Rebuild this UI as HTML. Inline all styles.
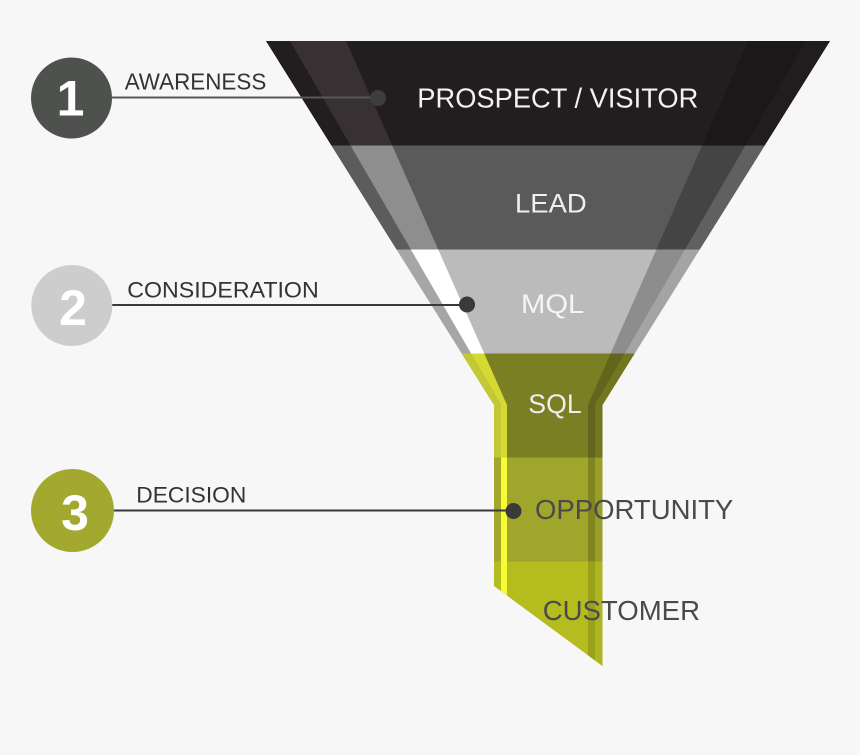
<!DOCTYPE html>
<html>
<head>
<meta charset="utf-8">
<style>
  html,body{margin:0;padding:0;background:#f7f7f7;}
  svg{display:block;}
  text{font-family:"Liberation Sans",Arial,sans-serif;}
</style>
</head>
<body>
<svg width="860" height="755" viewBox="0 0 860 755" xmlns="http://www.w3.org/2000/svg">
  <rect x="0" y="0" width="860" height="755" fill="#f7f7f7"/>
  <defs>
    <clipPath id="funnel">
      <path d="M266,41 L830,41 L602.5,405 L602.5,666 L494,586 L494,405 Z"/>
    </clipPath>
    <clipPath id="b1"><rect x="0" y="41" width="860" height="104.5"/></clipPath>
    <clipPath id="b2"><rect x="0" y="145.5" width="860" height="104"/></clipPath>
    <clipPath id="b3"><rect x="0" y="249.5" width="860" height="104"/></clipPath>
    <clipPath id="b4"><rect x="0" y="353.5" width="860" height="104"/></clipPath>
    <clipPath id="b5"><rect x="0" y="457.5" width="860" height="104"/></clipPath>
    <clipPath id="b6"><rect x="0" y="561.5" width="860" height="110"/></clipPath>
  </defs>

  <g clip-path="url(#funnel)">
    <!-- Band 1 -->
    <g clip-path="url(#b1)">
      <rect x="200" y="0" width="700" height="700" fill="#221e1f"/>
      <path d="M266,41 L290,41 L501,405 L501,700 L494,700 L494,405 Z M200,41 L266,41 L494,405 L494,700 L200,700 Z" fill="#221e1f"/>
      <path d="M290,41 L346,41 L507,405 L507,700 L501,700 L501,405 Z" fill="#373133"/>
      <path d="M748,41 L806,41 L595,405 L595,700 L588,700 L588,405 Z" fill="#1a1818"/>
      <path d="M806,41 L900,41 L900,700 L595,700 L595,405 Z" fill="#211d1e"/>
    </g>
    <!-- Band 2 -->
    <g clip-path="url(#b2)">
      <rect x="200" y="0" width="700" height="700" fill="#5a5a5a"/>
      <path d="M200,41 L290,41 L501,405 L501,700 L200,700 Z" fill="#5c5c5c"/>
      <path d="M290,41 L346,41 L507,405 L507,700 L501,700 L501,405 Z" fill="#8e8e8e"/>
      <path d="M748,41 L806,41 L595,405 L595,700 L588,700 L588,405 Z" fill="#444444"/>
      <path d="M806,41 L900,41 L900,700 L595,700 L595,405 Z" fill="#606060"/>
    </g>
    <!-- Band 3 -->
    <g clip-path="url(#b3)">
      <rect x="200" y="0" width="700" height="700" fill="#bbbbbb"/>
      <path d="M200,41 L290,41 L501,405 L501,700 L200,700 Z" fill="#a6a6a6"/>
      <path d="M290,41 L346,41 L507,405 L507,700 L501,700 L501,405 Z" fill="#ffffff"/>
      <path d="M748,41 L806,41 L595,405 L595,700 L588,700 L588,405 Z" fill="#8d8d8d"/>
      <path d="M806,41 L900,41 L900,700 L595,700 L595,405 Z" fill="#a4a4a4"/>
    </g>
    <!-- Band 4 SQL -->
    <g clip-path="url(#b4)">
      <rect x="200" y="0" width="700" height="700" fill="#7a7f24"/>
      <path d="M200,41 L290,41 L501,405 L501,700 L200,700 Z" fill="#c4c835"/>
      <path d="M290,41 L346,41 L507,405 L507,700 L501,700 L501,405 Z" fill="#d4da31"/>
      <path d="M748,41 L806,41 L595,405 L595,700 L588,700 L588,405 Z" fill="#62661d"/>
      <path d="M806,41 L900,41 L900,700 L595,700 L595,405 Z" fill="#72771f"/>
    </g>
    <!-- Band 5 OPPORTUNITY -->
    <g clip-path="url(#b5)">
      <rect x="200" y="0" width="700" height="700" fill="#a0a52b"/>
      <path d="M200,41 L290,41 L501,405 L501,700 L200,700 Z" fill="#a3a82b"/>
      <path d="M290,41 L346,41 L507,405 L507,700 L501,700 L501,405 Z" fill="#f8fc34"/>
      <path d="M748,41 L806,41 L595,405 L595,700 L588,700 L588,405 Z" fill="#80851f"/>
      <path d="M806,41 L900,41 L900,700 L595,700 L595,405 Z" fill="#9a9f29"/>
    </g>
    <!-- Band 6 CUSTOMER -->
    <g clip-path="url(#b6)">
      <rect x="200" y="0" width="700" height="700" fill="#b4bc1e"/>
      <path d="M290,41 L346,41 L507,405 L507,700 L501,700 L501,405 Z" fill="#f8fc34"/>
      <path d="M748,41 L806,41 L595,405 L595,700 L588,700 L588,405 Z" fill="#99a11c"/>
      <path d="M806,41 L900,41 L900,700 L595,700 L595,405 Z" fill="#aeb520"/>
    </g>
  </g>

  <!-- connectors -->
  <line x1="112" y1="97.5" x2="378" y2="97.5" stroke="#575757" stroke-width="2"/>
  <circle cx="378" cy="98" r="8" fill="#3d3d3d"/>
  <line x1="112" y1="305" x2="467" y2="305" stroke="#3a3a3a" stroke-width="2"/>
  <circle cx="467" cy="304.5" r="8" fill="#3a3a3a"/>
  <line x1="113" y1="510.5" x2="513" y2="510.5" stroke="#3a3a3a" stroke-width="2"/>
  <circle cx="513.5" cy="511" r="8" fill="#3a3a3a"/>

  <!-- circles -->
  <circle cx="71.5" cy="98" r="40.5" fill="#4f514f"/>
  <circle cx="71.8" cy="305.5" r="40.5" fill="#cdcdcd"/>
  <circle cx="72.5" cy="510.5" r="41.5" fill="#a3a82f"/>
  <text x="70.5" y="115.7" font-size="50" font-weight="bold" fill="#ffffff" text-anchor="middle">1</text>
  <text x="73" y="325" font-size="50" font-weight="bold" fill="#ffffff" text-anchor="middle">2</text>
  <text x="75" y="530" font-size="50" font-weight="bold" fill="#ffffff" text-anchor="middle">3</text>

  <!-- stage labels -->
  <text x="124.7" y="89.7" font-size="23" fill="#333333" textLength="141.6" lengthAdjust="spacingAndGlyphs">AWARENESS</text>
  <text x="127.3" y="297.3" font-size="22" fill="#333333" textLength="191.4" lengthAdjust="spacingAndGlyphs">CONSIDERATION</text>
  <text x="136.3" y="502.3" font-size="22" fill="#333333" textLength="110" lengthAdjust="spacingAndGlyphs">DECISION</text>

  <!-- funnel labels -->
  <text x="417.3" y="107.3" font-size="28" fill="#f2f2f2" textLength="281" lengthAdjust="spacingAndGlyphs">PROSPECT / VISITOR</text>
  <text x="515" y="212.3" font-size="27" fill="#f0f0f0" textLength="71.7" lengthAdjust="spacingAndGlyphs">LEAD</text>
  <text x="521" y="313" font-size="27" fill="#f5f5f5" textLength="63.3" lengthAdjust="spacingAndGlyphs">MQL</text>
  <text x="528.3" y="413" font-size="27" fill="#eeeeee" textLength="53.4" lengthAdjust="spacingAndGlyphs">SQL</text>
  <text x="535" y="519" font-size="28" fill="#4a4a4a" textLength="198.3" lengthAdjust="spacingAndGlyphs">OPPORTUNITY</text>
  <text x="542.7" y="620" font-size="28" fill="#4a4a4a" textLength="157.3" lengthAdjust="spacingAndGlyphs">CUSTOMER</text>
</svg>
</body>
</html>
